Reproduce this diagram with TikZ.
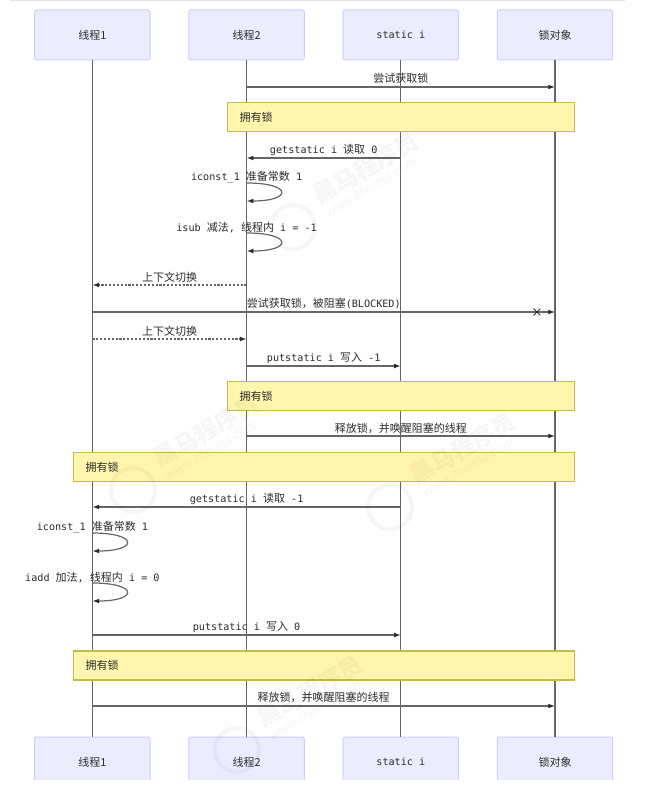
\documentclass[tikz,border=0pt]{standalone}
\usepackage{fontspec}
\usepackage{tikz}
\usetikzlibrary{positioning, arrows.meta, shapes.misc}
\setmainfont{DejaVu Sans Mono}
\setsansfont{Liberation Sans}
\newfontfamily\cjk{Noto Sans CJK SC}
\newcommand{\cn}[1]{{\cjk\fontsize{8.25pt}{10pt}\selectfont #1}}
\definecolor{actorfill}{HTML}{ECECFF}
\definecolor{actorline}{HTML}{CCCCFF}
\definecolor{notefill}{HTML}{FFF5AD}
\definecolor{noteline}{HTML}{BDBD4A}
\definecolor{wire}{HTML}{666666}
\definecolor{ink}{HTML}{2B2B2B}
\tikzset{
  actor/.style={draw=actorline, fill=actorfill, rounded corners=1.5pt, line width=0.75pt, minimum width=86.5pt, minimum height=37.5pt, inner sep=0pt, text=ink},
  note/.style={draw=noteline, fill=notefill, line width=0.9pt, minimum height=21.75pt, inner ysep=0pt, inner xsep=9pt, anchor=west, align=left, text=ink},
  life/.style={draw=wire, line width=0.8pt},
  msg/.style={draw=wire, line width=0.9pt, -{Latex[length=5pt,width=3.6pt,color=ink]}},
  msgdash/.style={msg, line width=0.85pt, dash pattern=on 1.6pt off 1.3pt},
  msgtext/.style={above, inner sep=1.2pt, text=ink},
  cntext/.style={msgtext, yshift=0.75pt},
  wmark/.style={opacity=0.035, text opacity=0.035, inner sep=0pt},
}
\begin{document}
\begin{tikzpicture}[x=0.75pt, y=-0.75pt, on grid, node distance=115.65pt,
    font=\fontsize{7.6pt}{10pt}\selectfont]
  \useasboundingbox (0,0) rectangle (645,795);
  \fill[black!12] (10,0) rectangle (625,1.5);

  % actors, the lower row is cut by the page edge
  \begin{scope}
    \clip (0,0) rectangle (645,779);
    \node[actor] (t1) at (92.4,35) {\cn{线程1}};
    \node[actor] (t2) [right=of t1] {\cn{线程2}};
    \node[actor] (si) [right=of t2] {static i};
    \node[actor] (lk) [right=of si] {\cn{锁对象}};
    \node[actor] (t1end) [below=545.25pt of t1] {\cn{线程1}};
    \node[actor] (t2end) [below=545.25pt of t2] {\cn{线程2}};
    \node[actor] (siend) [below=545.25pt of si] {static i};
    \node[actor] (lkend) [below=545.25pt of lk] {\cn{锁对象}};
  \end{scope}

  % lifelines
  \foreach \who in {t1, t2, si, lk}
    \draw[life] (\who) -- (\who end);

  % one point on every lifeline per row
  \foreach \row/\ypos in {a/87, b/158, c/183, d/201, e/233, f/251, g/285, h/312, i/339, j/366, k/436, l/507, m/533, n/551, o/583, p/601, q/635, r/706}
    \foreach \who in {t1, t2, si, lk}
      \coordinate (\who\row) at (\who |- 0,\ypos);

  % notes
  \node[note, text width=260.25pt-18pt] (n1) at (227,117) {\cn{拥有锁}};
  \node[note, text width=260.25pt-18pt] (n2) at (227,396) {\cn{拥有锁}};
  \node[note, text width=375.75pt-18pt] (n3) at (73,467) {\cn{拥有锁}};
  \node[note, text width=375.75pt-18pt] (n4) at (73,665.5) {\cn{拥有锁}};

  \path
    (t2a) edge[msg] node[cntext] (l1) {\cn{尝试获取锁}} (lka)
    (sib) edge[msg] node[msgtext] (l2) {getstatic i \cn{读取} 0} (t2b)
    (t2g) edge[msgdash] node[msgtext] (l5) {\cn{上下文切换}} (t1g)
    (t1h) edge[msg] node[cntext] (l6) {\cn{尝试获取锁，被阻塞}(BLOCKED)} (lkh)
    (t1i) edge[msgdash] node[msgtext] (l7) {\cn{上下文切换}} (t2i)
    (t2j) edge[msg] node[msgtext] (l8) {putstatic i \cn{写入} -1} (sij)
    (t2k) edge[msg] node[msgtext] (l9) {\cn{释放锁，并唤醒阻塞的线程}} (lkk)
    (sil) edge[msg] node[msgtext] (l10) {getstatic i \cn{读取} -1} (t1l)
    (t1q) edge[msg] node[msgtext] (l13) {putstatic i \cn{写入} 0} (siq)
    (t1r) edge[msg] node[cntext] (l14) {\cn{释放锁，并唤醒阻塞的线程}} (lkr);

  % self messages
  \draw[msg] (t2c) .. controls +(46,0) and +(46,0) .. (t2d);
  \draw[msg] (t2e) .. controls +(46,0) and +(46,0) .. (t2f);
  \draw[msg] (t1m) .. controls +(46,0) and +(46,0) .. (t1n);
  \draw[msg] (t1o) .. controls +(46,0) and +(46,0) .. (t1p);
  \node[msgtext, yshift=-1.2pt] (l3) at (t2c) {iconst\_1 \cn{准备常数} 1};
  \node[msgtext, yshift=-1pt] (l4) at (t2e) {isub \cn{减法}, \cn{线程内} i = -1};
  \node[msgtext, yshift=-1.2pt] (l11) at (t1m) {iconst\_1 \cn{准备常数} 1};
  \node[msgtext, yshift=-1pt] (l12) at (t1o) {iadd \cn{加法}, \cn{线程内} i = 0};

  % cross on the blocked message
  \node[cross out, draw=ink, line width=0.6pt, minimum size=4.5pt, inner sep=0pt, left=11pt of lkh] (x1) {};

  % watermark
  \foreach \wx/\wy/\wname in {293/227/a, 133/490/b, 390/507/c, 237/750/d} {
    \node[wmark, circle, draw=black, line width=3pt, minimum size=33pt] (wmlogo\wname) at (\wx,\wy) {};
    \node[wmark, rotate=30, font=\cjk\bfseries\fontsize{17.5pt}{18pt}\selectfont] (wmname\wname) at (\wx+73,\wy-59) {黑马程序员};
    \node[wmark, rotate=31, font=\sffamily\itshape\fontsize{10pt}{11pt}\selectfont] (wmurl\wname) at (\wx+78,\wy-40) {www.itheima.com};
  }
\end{tikzpicture}
\end{document}
